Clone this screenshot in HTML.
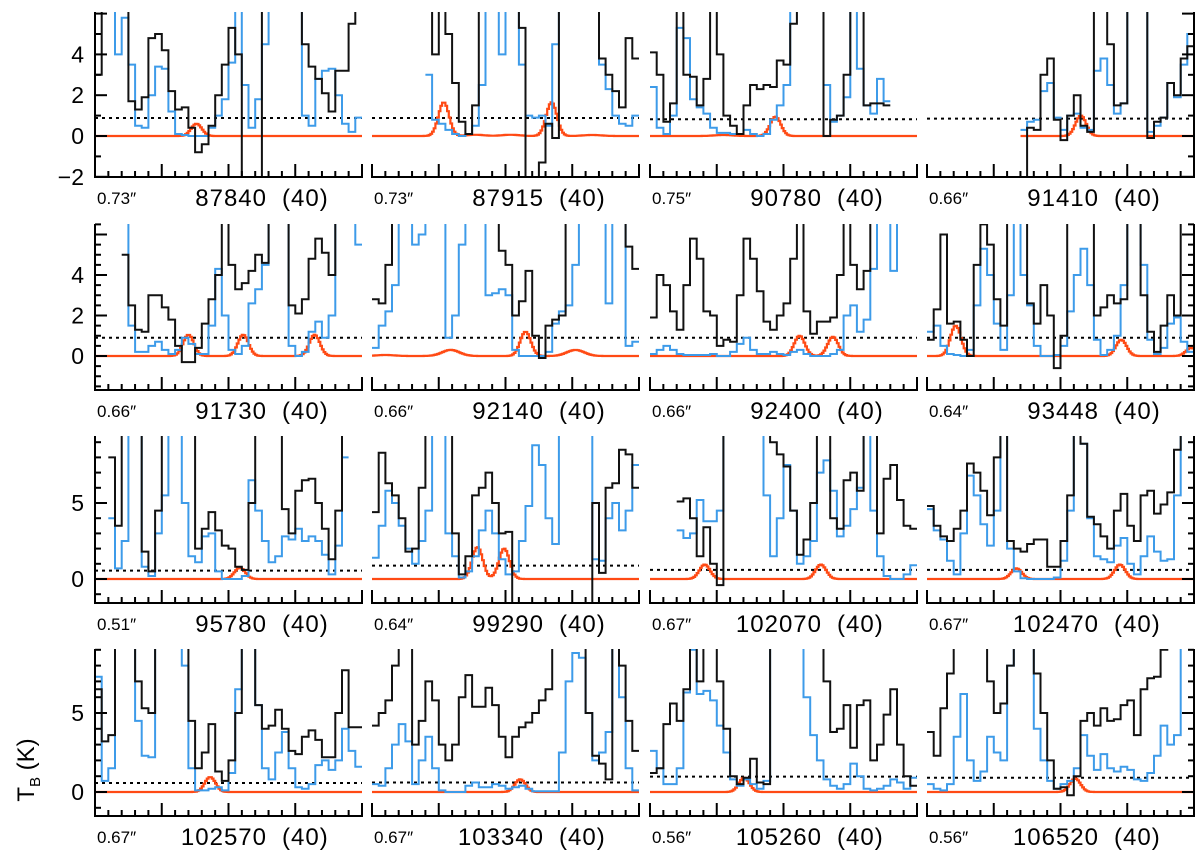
<!DOCTYPE html>
<html><head><meta charset="utf-8"><title>Spectra panels</title>
<style>
html,body{margin:0;padding:0;background:#fff;}
svg{display:block;}
text{font-family:"Liberation Sans",sans-serif;fill:#000;}
</style></head>
<body>
<svg id="chart" width="1200" height="854" viewBox="0 0 1200 854" xmlns="http://www.w3.org/2000/svg">
<defs id="defs"></defs>
<g id="panels"></g>
<text transform="translate(34,770) rotate(-90)" font-size="24" text-anchor="middle">T<tspan font-size="15" dy="6">B</tspan><tspan dy="-6"> (K)</tspan></text>
</svg>
<script>
// ---- data ----
const freqs = [87840,87915,90780,91410,91730,92140,92400,93448,95780,99290,102070,102470,102570,103340,105260,106520];
const beams = ["0.73","0.73","0.75","0.66","0.66","0.66","0.66","0.64","0.51","0.64","0.67","0.67","0.67","0.67","0.56","0.56"];
const dotted = [0.88,0.88,0.82,0.85,0.9,0.9,0.9,0.9,0.55,0.88,0.6,0.6,0.57,0.6,0.97,0.9];
const redStart = [0,0,0,14,0,0,0,0,0,0,0,0,0,0,0,0];
const N = null;
const blk01=[3,12,12,12,12,1.7,1.3,1.9,4.8,5.0,4.2,2.2,1.3,1.4,0.4,-0.8,-0.4,0.5,2.0,3.5,5.3,4.0,-3,-3,-3,12,12,12,12,12,12,4.5,3.4,2.8,2.1,1.2,3.2,3.2,5.5,12];
const blu01=[12,12,12,4,5.8,3.5,0.5,0.4,2.0,3.4,3.3,1.2,0.1,0.05,0,0,0,0.4,1.0,1.8,3.6,12,2.5,0.4,1.8,4.5,12,12,12,12,12,1.0,0.5,2.8,3.2,3.3,2.0,0.6,0.2,0.9];
const red01=[[15.2,0.6,0.8]];
const blk02=[N,N,N,N,N,N,N,N,12,4,12,5,2.6,0.7,0.1,1.5,12,12,12,12,12,12,5.3,-2.5,-2.5,-1.3,0.6,-0.1,12,12,12,12,12,12,3.8,3.0,2.2,1.4,4.8,3.8];
const blu02=[N,N,N,N,N,N,N,N,3.0,0.8,0.6,0.3,0.1,0,0.1,0.5,2.5,12,12,4,12,12,3.5,1.0,0.9,1.0,0.5,4.5,12,12,12,12,12,12,3.5,2.3,1.0,0.6,0.5,1.0];
const red02=[[10.75,1.65,0.8],[26.9,1.65,0.8],[15.5,0.06,1.3],[20.8,0.06,1.3],[33,0.05,1.3]];
const blk03=[4.1,3.0,0.7,1.6,12,3.0,2.9,1.5,2.8,12,4,1.0,0.5,0.1,1.5,2.5,2.3,2.5,2.4,3.7,3.5,5.5,12,12,12,12,0,0.8,1.0,3.0,12,12,1.5,1.6,1.6,1.5,N,N,N,N];
const blu03=[2.4,0.4,0.1,1.0,5.3,4.8,1.8,1.4,1.1,0.4,0.15,0.15,0.1,0.1,0.3,0.1,0,0.1,0.8,1.5,2.5,12,12,12,12,12,2.5,0.7,1.0,1.9,12,3.3,1.5,1.1,2.8,1.7,N,N,N,N];
const red03=[[18.8,0.95,0.8],[11,0.05,1.3]];
const blk04=[N,N,N,N,N,N,N,N,N,N,N,N,N,N,-3,0.4,0.3,3.0,3.8,0.8,-0.2,1.0,2.0,0.5,0.2,12,12,4.5,1.5,1.6,12,12,12,-0.1,0.7,0.9,2.6,2.0,3.8,4.4];
const blu04=[N,N,N,N,N,N,N,N,N,N,N,N,N,N,0.3,0.7,0.8,2.2,2.6,0.9,0.3,1.0,1.1,0.4,0.3,3.2,3.8,2.5,1.1,1.6,12,12,12,0.2,0.5,0.9,2.6,1.9,3.5,5.0];
const red04=[[23.05,1.0,0.8]];
const blk05=[N,N,N,N,5.0,2.5,1.3,1.2,3.0,3.0,2.4,1.8,0.5,-0.3,-0.3,0.4,1.6,2.8,4.0,12,4.5,3.3,3.6,4.2,5.0,4.6,12,12,12,2.5,2.1,2.8,4.8,5.8,5.1,4.0,12,12,12,12];
const blu05=[N,N,N,N,12,1.5,0.2,0.2,0.5,0.7,0.3,0.1,0.3,0.9,0.6,0.1,0.1,1.5,4.3,2.0,0.3,0.1,0.5,2.6,3.3,4.5,12,12,12,0.5,0,0.2,1.2,1.7,0.9,2.0,12,12,12,5.5];
const red05=[[14.0,1.05,0.8],[22.2,1.05,0.8],[32.9,1.05,0.8]];
const blk06=[2.8,2.6,4.5,12,12,12,12,12,12,12,12,12,12,12,12,12,12,12,12,5.2,4.5,2.0,2.7,4.2,1.0,-0.1,1.5,1.8,2.0,12,12,12,12,12,12,12,12,12,5.4,4.3];
const blu06=[0.4,1.5,2.2,3.5,12,12,5.5,6,12,12,12,0.9,2.0,5.5,12,12,12,3.0,3.1,3.3,3.0,0.3,0,0,0,0,0.2,1.6,2.2,2.5,4.5,12,12,12,12,2.6,12,12,0.5,0.7];
const red06=[[11.8,0.3,1.3],[23.0,1.2,0.8],[30.5,0.3,1.3],[2,0.05,1.3]];
const blk07=[1.9,4.0,3.5,2.2,1.3,3.5,5.8,4.8,2.2,2.0,0.5,0.8,0.7,3.0,5.8,4.8,3.2,1.7,1.3,2.0,2.6,4.8,12,2.2,1.1,1.7,1.7,1.9,4.0,12,4.5,3.3,4.2,12,12,12,12,12,12,12];
const blu07=[0.1,0.3,0.5,0.3,0.1,0.05,0.05,0.05,0.05,0.1,0,0,0.2,0.6,0.9,0.3,0.1,0.1,0.2,0.1,0.05,0.2,0.3,0.1,0,0,0,0.1,0.3,2.0,2.5,1.2,1.8,4.3,12,12,4.2,12,12,12];
const red07=[[22.4,1.0,0.8],[27.4,0.95,0.8]];
const blk08=[0.8,2.3,6,1.6,1.7,0.8,0,4.5,6.5,5.5,2.8,1.5,12,12,12,2.6,1.6,3.5,2.0,-0.6,1.0,12,12,12,12,2.0,2.4,3.0,2.6,2.8,12,12,3.0,1.2,0.2,1.5,3.0,2.0,12,12];
const blu08=[1.2,1.5,0.5,0.1,0.05,0,0.3,2.5,5.3,4.0,1.6,0.3,3.0,12,4.0,2.5,0.5,0,0,0.05,0.5,2.2,4.0,5.3,3.5,0.8,0.05,0.3,1.0,3.5,12,12,4.5,0.8,0.1,0.4,1.6,1.9,0.7,0.2];
const red08=[[4.3,1.5,0.8],[29.1,0.8,0.8],[39.6,0.4,0.8]];
const blk09=[N,N,8.0,3.5,12,12,12,1.8,0.5,4.5,12,12,12,12,12,2.0,3.3,4.4,3.2,2.2,2.0,0.8,0.6,5,12,12,12,12,4.6,3.0,5.8,6.5,6.6,5.0,3.3,1.3,4.5,12,N,N];
const blu09=[N,N,4.0,0.7,2.5,12,12,0.8,0.2,3.0,5.5,12,12,5.0,1.5,1.1,2.8,3.0,0.5,0,0,0,0.2,6.5,4.5,2.5,1.1,1.5,2.8,2.6,3.3,2.5,2.8,2.5,1.6,0.3,2.2,8.0,N,N];
const red09=[[21.7,0.75,0.8]];
const blk10=[4.4,8.3,6.3,5.5,4.0,1.8,2.0,6.0,12,12,12,12,3,0.3,1.5,5.5,6.0,7.0,5.0,3.0,3.1,-3,-3,-3,-3,-3,-3,-3,-3,-3,-3,-3,-3,5.0,0.4,6.0,6.3,8.5,8.2,6.0];
const blu10=[1.4,3.5,5.8,5.0,3.5,2.0,1.0,2.5,4.5,12,12,3.0,1.5,0.1,0.5,1.5,3.2,4.5,3.0,1.3,0.3,0.5,2.5,4.8,8.8,7.5,4.0,2.3,12,12,12,12,12,1.3,1.2,4.0,5.0,3.2,4.5,7.5];
const red10=[[15.8,2.1,0.8],[19.8,2.0,0.8]];
const blk11=[N,N,N,N,5.1,5.3,4.0,1.5,3.4,1.0,-0.4,12,12,12,12,12,12,12,9,8.2,7.4,4.5,1.6,2.6,5.0,12,12,4.0,3.3,6.5,7.0,5.8,12,12,3.0,6.6,7.5,5.2,3.5,3.3];
const blu11=[N,N,N,N,3.2,2.7,3.0,5.2,3.8,3.8,4.5,12,12,12,12,12,12,5.5,1.5,4.0,7.5,4.5,1.0,1.5,2.5,7.0,7.8,5.8,2.8,3.5,4.6,6,12,4.5,1.5,0.2,0,0,0.3,0.9];
const red11=[[8.2,0.95,0.8],[25.6,0.95,0.8]];
const blk12=[4.8,3.5,2.8,2.5,3.3,4.5,7.6,7.0,5.8,4.2,8,12,2.5,2.0,1.8,2.3,2.6,2.6,0.8,0.8,2.5,5.5,12,8.9,4.1,3.6,2.8,2.0,4.5,5.6,3.5,2.5,5.5,5.8,4.3,4.9,5.7,8.5,12,12];
const blu12=[4.6,3.2,2.6,1.2,0.3,3.0,6.8,5.5,3.6,2.2,4.5,12,2.0,0.5,0.05,0,0,0,0,0.1,1.2,4.5,12,8.9,4.0,1.5,1.3,1.1,2.2,2.7,1.0,0.3,1.5,2.8,1.8,1.2,1.3,5.5,12,12];
const red12=[[13.4,0.7,0.8],[28.9,0.95,0.8]];
const blk13=[6.5,3.2,3.6,12,12,12,7,5.3,5.0,12,12,12,12,12,4.5,1.5,2.5,4.3,1.3,0.7,2.0,5.0,12,12,5.5,4.0,4.2,5.2,4.0,2.6,2.4,3.5,3.9,3.3,2.2,2.2,5.0,7.7,4.1,4.1];
const blu13=[7.3,0.7,1.5,12,12,12,4.5,2.3,2.2,12,12,12,12,8.0,1.5,0.1,0.1,0.2,0.3,0.1,1.2,6.5,12,12,5.5,1.5,0.8,2.5,3.8,1.5,0.3,0.2,0.5,1.7,2.0,1.4,2.0,4.0,2.6,1.6];
const red13=[[17.25,0.95,0.8]];
const blk14=[4.2,5.0,5.8,8,12,12,3.0,4.5,7.0,5.8,3.0,2.0,3.0,6.0,7.4,5.4,5.4,6.6,5.5,3.5,2.2,3.5,4.1,4.4,5.0,5.8,6.5,12,12,12,12,12,5.0,2.3,1.8,0.8,12,8.0,4.5,2.6];
const blu14=[0.5,0.4,1.5,3.0,4.3,3.2,0.5,2.0,3.5,1.5,0.1,0,0,0,0.4,0.6,0.3,0.3,0.5,0.4,0.2,0.3,0.4,0.2,0.05,0.05,0.05,0.05,2.5,7.0,8.8,8.5,5.0,2.0,2.5,3.8,12,6.0,1.5,0.1];
const red14=[[22.2,0.8,0.8]];
const blk15=[1.2,1.5,4.3,5.6,4.5,6.5,12,7.0,12,12,7.0,4.0,1.0,0.5,0.9,2.1,0.6,0.5,12,12,12,12,12,12,12,12,7.0,3.8,4.0,5.5,2.8,5.5,5.8,2.0,3.0,4.9,6.5,3.0,1.0,0.4];
const blu15=[2.6,1.5,0.5,0.5,1.5,6.3,9,6.2,6.4,5.8,4.2,2.5,0.8,0.4,0.8,0.5,0.2,0.7,12,12,12,12,12,6.0,3.6,2.0,0.8,0.4,0.2,0.5,1.8,1.0,0.2,0.1,0.2,0.4,0.8,0.6,0.2,0.9];
const red15=[[14.1,0.9,0.8]];
const blk16=[3.8,2.3,5.3,7.5,12,12,12,12,12,7.0,5.0,5.6,8.0,12,12,12,7.5,5.0,2.0,0.2,0.3,-0.2,1.0,4.5,5.0,4.2,5.3,4.5,4.6,5.5,5.8,3.6,6.5,7.2,7.3,9,12,12,12,12];
const blu16=[0.5,0.2,0.1,0.5,3.5,6.2,2.0,0.7,1.3,3.5,2.5,2.0,8,12,12,12,4.0,2.0,0.7,0.2,0.5,0.7,1.5,3.6,2.3,1.4,2.4,1.5,1.3,1.6,1.4,0.8,0.7,1.2,2.3,4.2,3.0,3.6,12,12];
const red16=[[22.2,0.85,0.8]];
const rowTickLabels = [["4","2","0","\u22122"],["4","2","0"],["5","0"],["5","0"]];
const rowTickValues = [[4,2,0,-2],[4,2,0],[5,0],[5,0]];

const blacks=[blk01,blk02,blk03,blk04,blk05,blk06,blk07,blk08,blk09,blk10,blk11,blk12,blk13,blk14,blk15,blk16];
const blues=[blu01,blu02,blu03,blu04,blu05,blu06,blu07,blu08,blu09,blu10,blu11,blu12,blu13,blu14,blu15,blu16];
const reds=[red01,red02,red03,red04,red05,red06,red07,red08,red09,red10,red11,red12,red13,red14,red15,red16];

// ---- layout ----
const NS="http://www.w3.org/2000/svg";
const colLeft=[95,372,650,927], W=267, NCH=40;
const rowTop=[12,224,436,649], rowBot=[177,390,603,816];
const rowZero=[136,356,579,792], rowUnit=[20.4,20.25,15.2,15.8];
const rowMinor=[[-2,6,1],[-1.5,6.5,0.5],[-1,9,1],[-1,9,1]];
function isMajor(r,v){ if(r<2) return Math.abs(v%2)<1e-6; return Math.abs(v%5)<1e-6; }
const svg=document.getElementById('panels'), defs=document.getElementById('defs');
function mk(tag,attrs,parent){const e=document.createElementNS(NS,tag);for(const k in attrs)e.setAttribute(k,attrs[k]);parent.appendChild(e);return e;}
function xMap(c,k){return colLeft[c]+k*W/NCH;}
function yMap(r,v){return rowZero[r]-v*rowUnit[r];}
function stepPath(c,r,vals){
  let d="",prev=null;
  for(let k=0;k<vals.length;k++){const v=vals[k];
    if(v===null){prev=null;continue;}
    const y=yMap(r,v).toFixed(1);
    d+=(prev===null?"M":"L")+xMap(c,k).toFixed(1)+" "+y+"L"+xMap(c,k+1).toFixed(1)+" "+y;
    prev=v;}
  return d;
}
function redVal(peaks,ch){let s=0;for(const p of peaks){s+=p[1]*Math.exp(-0.5*Math.pow((ch-p[0])/p[2],2));}return s;}

for(let i=0;i<16;i++){
  const r=Math.floor(i/4), c=i%4;
  const g=mk('g',{},svg);
  
  
  const cp=mk('clipPath',{id:'cp'+i},defs);
  mk('rect',{x:colLeft[c],y:rowTop[r],width:W,height:rowBot[r]-rowTop[r]},cp);
  const data=mk('g',{'clip-path':'url(#cp'+i+')'},g);
  const dl=mk('line',{x1:colLeft[c],x2:colLeft[c]+W,y1:yMap(r,dotted[i]),y2:yMap(r,dotted[i]),stroke:'#000','stroke-width':2,'stroke-dasharray':'3,4'},data);
  
  
  const pk=reds[i]; let rd="", sub=4;
  for(let s=redStart[i]*sub;s<NCH*sub;s++){
    const v=redVal(pk,(s+0.5)/sub); const y=yMap(r,v).toFixed(1);
    const x0=(colLeft[c]+s*W/(NCH*sub)).toFixed(1), x1=(colLeft[c]+(s+1)*W/(NCH*sub)).toFixed(1);
    rd+=(rd===""?"M":"L")+x0+" "+y+"L"+x1+" "+y;
  }
  const rp=mk('path',{d:rd,fill:'none',stroke:'#ff4a14','stroke-width':2.2},data);
  
  
  const bp=mk('path',{d:stepPath(c,r,blues[i]),fill:'none',stroke:'#3d9be9','stroke-width':2},data);
  
  
  const kp=mk('path',{d:stepPath(c,r,blacks[i]),fill:'none',stroke:'#111','stroke-width':2},data);
  
  
  const ax=mk('g',{stroke:'#000','stroke-width':2},g);
  
  
  mk('line',{x1:colLeft[c]-1,x2:colLeft[c]+W+1,y1:rowBot[r],y2:rowBot[r]},ax);
  for(let t=0;t<=20;t++){const x=colLeft[c]+t*W/20;const L=(t%5===0)?13:6;
    mk('line',{x1:x,x2:x,y1:rowBot[r],y2:rowBot[r]-L},ax);}
  const sides=[]; if(c===0)sides.push(1); if(c===3)sides.push(-1);
  for(const dir of sides){
    const xa=dir===1?colLeft[c]:colLeft[c]+W;
    const ya=mk('g',{stroke:'#000','stroke-width':2},g);
    
    
    mk('line',{x1:xa,x2:xa,y1:rowTop[r],y2:rowBot[r]},ya);
    const mm=rowMinor[r];
    for(let v=mm[0];v<=mm[1]+1e-6;v+=mm[2]){const y=yMap(r,v); if(y<rowTop[r]-0.5||y>rowBot[r]+0.5)continue;
      const L=isMajor(r,v)?12:6; mk('line',{x1:xa,x2:xa+dir*L,y1:y,y2:y},ya);}
  }
  if(c===0){
    const vals=rowTickValues[r], labs=rowTickLabels[r];
    for(let j=0;j<vals.length;j++){
      const t=mk('text',{x:84,y:yMap(r,vals[j])+8,'font-size':23,'text-anchor':'end'},g);
      t.textContent=labs[j];
      
      
    }
  }
  const ly=rowBot[r]+27;
  const b=mk('text',{x:colLeft[c]+2,y:ly,'font-size':17},g);
  b.textContent=beams[i]+"\u2033";
  
  
  const f=mk('text',{x:colLeft[c]+172,y:ly+2,'font-size':24,'text-anchor':'end','letter-spacing':'1'},g);
  f.textContent=String(freqs[i]);
  
  
  const n=mk('text',{x:colLeft[c]+187,y:ly+2,'font-size':24,'text-anchor':'start','letter-spacing':'1'},g);
  n.textContent="(40)";
  
  
}
</script>
</body></html>
